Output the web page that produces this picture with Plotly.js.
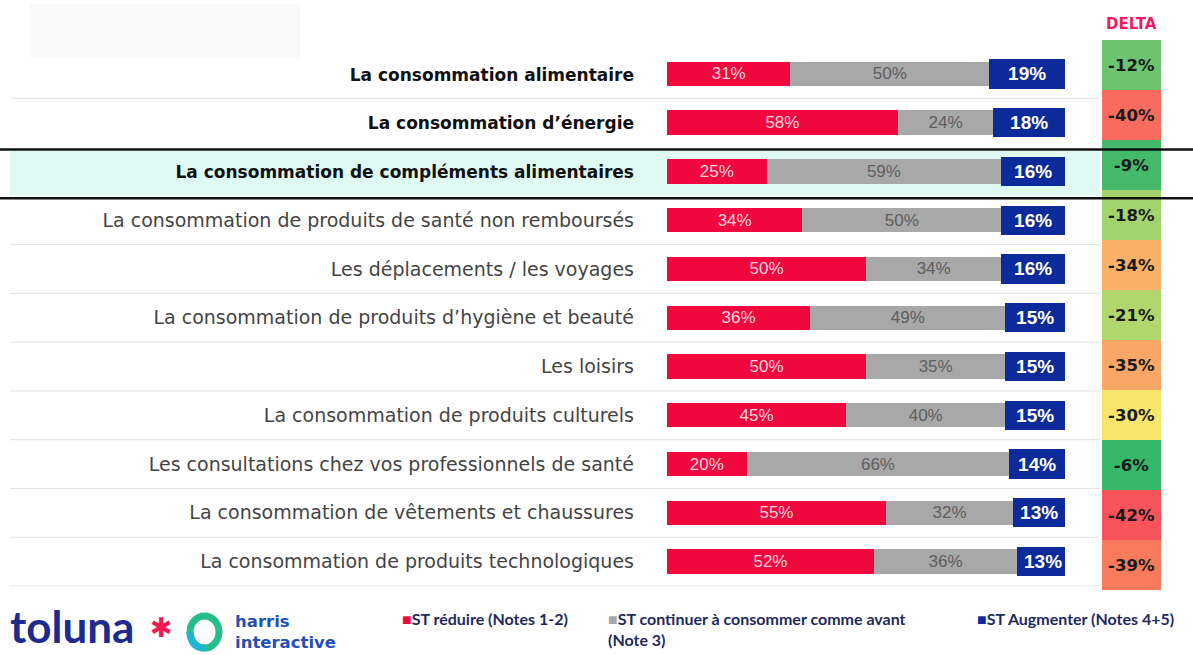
<!DOCTYPE html>
<html><head><meta charset="utf-8">
<script src="https://cdn.plot.ly/plotly-3.0.1.min.js"></script>
<style>html,body{margin:0;padding:0;background:#fff}#chart{width:1193px;height:655px}</style>
</head><body><div id="chart"></div>
<script>
const categories = [
  "La consommation alimentaire",
  "La consommation d’énergie",
  "La consommation de compléments alimentaires",
  "La consommation de produits de santé non remboursés",
  "Les déplacements / les voyages",
  "La consommation de produits d’hygiène et beauté",
  "Les loisirs",
  "La consommation de produits culturels",
  "Les consultations chez vos professionnels de santé",
  "La consommation de vêtements et chaussures",
  "La consommation de produits technologiques"
];
const boldRows = [true, true, true, false, false, false, false, false, false, false, false];
const reduire   = [31, 58, 25, 34, 50, 36, 50, 45, 20, 55, 52];
const continuer = [50, 24, 59, 50, 34, 49, 35, 40, 66, 32, 36];
const augmenter = [19, 18, 16, 16, 16, 15, 15, 15, 14, 13, 13];
const delta     = [-12, -40, -9, -18, -34, -21, -35, -30, -6, -42, -39];
const deltaColors = ["#6cc46e", "#f76c5e", "#45b96a", "#a3d36c", "#f9b067", "#b0d66c",
                     "#f9a766", "#f9e46c", "#35b868", "#f6535b", "#f77a5c"];
const legendLabels = ["ST réduire (Notes 1-2)", "ST continuer à consommer comme avant<br>(Note 3)", "ST Augmenter (Notes 4+5)"];

const W = 1193, H = 655;
const px = v => v / W, py = v => 1 - v / H;
const pct = a => a.map(v => v + "%");

const base = {type: "bar", orientation: "h", y: categories, xaxis: "x", yaxis: "y",
  textposition: "inside", insidetextanchor: "middle", textangle: 0, constraintext: "none",
  hoverinfo: "skip", showlegend: false};

const traces = [
  Object.assign({}, base, {x: reduire, text: pct(reduire), width: 0.5,
    marker: {color: "#ef073e"}, textfont: {family: "Liberation Sans, Arial", size: 17, color: "#ffd3dd"}}),
  Object.assign({}, base, {x: continuer, text: pct(continuer), width: 0.5,
    marker: {color: "#a8a8a8"}, textfont: {family: "Liberation Sans, Arial", size: 17, color: "#5e5e5e"}}),
  Object.assign({}, base, {x: augmenter, text: augmenter.map(v => "<b>" + v + "%</b>"), width: 0.6,
    marker: {color: "#0c2a9a"}, textfont: {family: "Liberation Sans, Arial", size: 19, color: "#ffffff"}}),
  {type: "bar", orientation: "h", y: categories, x: categories.map(() => 1), xaxis: "x2", yaxis: "y2",
   width: 1, marker: {color: deltaColors, line: {width: 0}},
   text: delta.map(v => "<b>" + v + "%</b>"), textposition: "inside", insidetextanchor: "middle",
   textangle: 0, constraintext: "none",
   textfont: {family: "DejaVu Sans, Liberation Sans", size: 16.5, color: "#1a1a1a"},
   hoverinfo: "skip", showlegend: false}
];

const shapes = [];
// faint blurred header remnant
shapes.push({type: "rect", xref: "paper", yref: "paper", x0: px(30), x1: px(300), y0: py(58), y1: py(4),
  fillcolor: "#fafafa", line: {width: 0}, layer: "below"});
// highlighted row background
shapes.push({type: "rect", xref: "paper", yref: "y", x0: px(10), x1: px(1100), y0: 1.55, y1: 2.5,
  fillcolor: "#defaf3", line: {width: 0}, layer: "below"});
// row separators
for (let i = 0; i < categories.length; i++) {
  if (i === 1 || i === 2) continue;
  shapes.push({type: "line", xref: "paper", yref: "y", x0: px(10), x1: px(1100), y0: i + 0.5, y1: i + 0.5,
    line: {color: "#e3e3e3", width: 1}, layer: "below"});
}
// black frame lines around highlighted row
shapes.push({type: "line", xref: "paper", yref: "y", x0: 0, x1: 1, y0: 1.55, y1: 1.55, line: {color: "#111", width: 2.5}});
shapes.push({type: "line", xref: "paper", yref: "y", x0: 0, x1: 1, y0: 2.55, y1: 2.55, line: {color: "#111", width: 2.5}});
// harris ring logo
shapes.push({type: "circle", xref: "paper", yref: "paper", x0: px(190), x1: px(219), y0: py(648), y1: py(616),
  line: {color: "#26bf8a", width: 7}});
shapes.push({type: "path", xref: "paper", yref: "paper",
  path: "M " + px(190) + "," + py(632) + " Q " + px(191) + "," + py(648) + " " + px(205) + "," + py(648),
  line: {color: "#1fb5d8", width: 7}});

const annotations = [];
annotations.push({xref: "paper", yref: "paper", x: px(1131), y: py(24), text: "<b>DELTA</b>", showarrow: false,
  font: {family: "DejaVu Sans, Liberation Sans", size: 15, color: "#ee1e5e"}, xanchor: "center", yanchor: "middle"});
const legColors = ["#ef073e", "#a8a8a8", "#0c2a9a"];
const legX = [400, 606, 975];
legendLabels.forEach((t, i) => {
  annotations.push({xref: "paper", yref: "paper", x: px(legX[i]), y: py(607), text:
    "<span style='color:" + legColors[i] + "'>■</span><b>" + t + "</b>", showarrow: false,
    xanchor: "left", yanchor: "top", align: "left",
    font: {family: "Lato, Liberation Sans", size: 16, color: "#1f2a5c"}});
});
annotations.push({xref: "paper", yref: "paper", x: px(8), y: py(654), text: "<b>toluna</b>",
  showarrow: false, xanchor: "left", yanchor: "bottom",
  font: {family: "Lato, Noto Sans", size: 44, color: "#1d2a8f"}});
annotations.push({xref: "paper", yref: "paper", x: px(161), y: py(627), text: "✱",
  showarrow: false, xanchor: "center", yanchor: "middle",
  font: {family: "DejaVu Sans", size: 27, color: "#ef1a55"}});
annotations.push({xref: "paper", yref: "paper", x: px(233), y: py(654), text: "<b>harris<br>interactive</b>",
  showarrow: false, xanchor: "left", yanchor: "bottom", align: "left",
  font: {family: "DejaVu Sans, Noto Sans", size: 16.5, color: "#1f4fb8"}});

const layout = {
  width: W, height: H, margin: {l: 0, r: 0, t: 0, b: 0},
  paper_bgcolor: "#ffffff", plot_bgcolor: "rgba(0,0,0,0)",
  barmode: "stack", bargap: 0.5, showlegend: false,
  xaxis: {domain: [px(667), px(1065)], range: [0, 100], visible: false, fixedrange: true},
  xaxis2: {domain: [px(1102), px(1161)], range: [0, 1], visible: false, anchor: "y2"},
  yaxis: {domain: [py(586.5), py(49.5)], type: "category", autorange: "reversed",
    showgrid: false, zeroline: false, showline: false, ticks: "",
    tickmode: "array", tickvals: categories,
    ticktext: categories.map((c, i) => boldRows[i] ? "<b style='font-size:17px;color:#111'>" + c + "</b>" : c),
    ticklabelstandoff: 32, automargin: false,
    tickfont: {family: "DejaVu Sans, Liberation Sans", size: 19, color: "#444444"}},
  yaxis2: {domain: [py(590), py(40)], type: "category", autorange: "reversed", anchor: "x2",
    visible: false, categoryorder: "array", categoryarray: categories},
  shapes: shapes, annotations: annotations
};
Plotly.newPlot("chart", traces, layout, {staticPlot: true});
</script></body></html>
